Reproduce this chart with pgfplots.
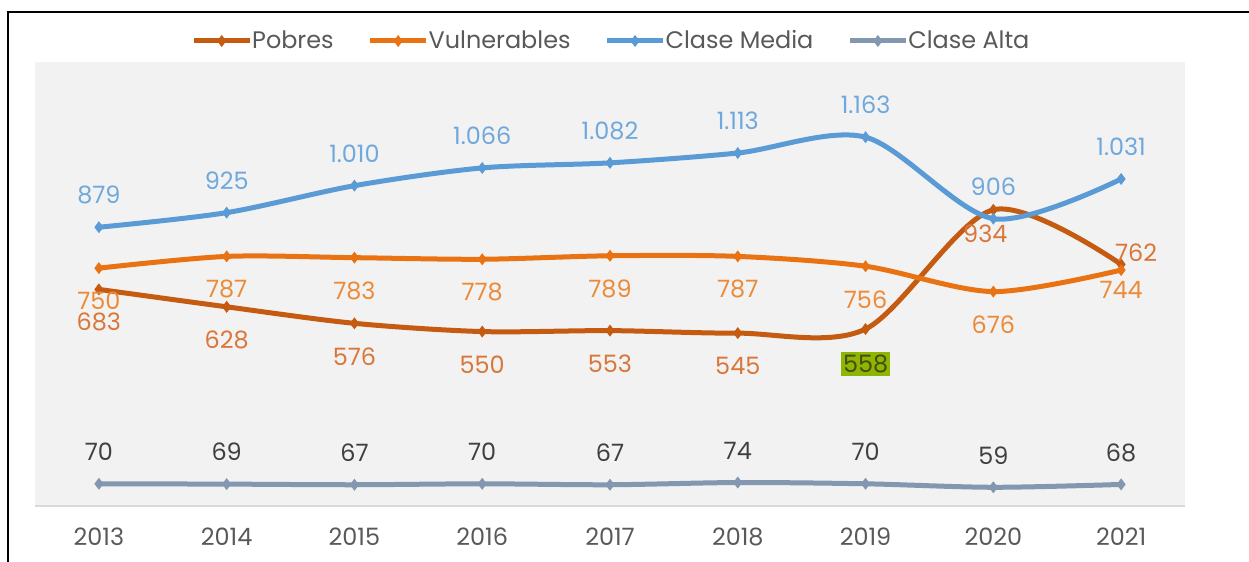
\documentclass[border=0pt]{standalone}
\usepackage{pgfplots}
\pgfplotsset{compat=1.18}
\usetikzlibrary{calc}
\usepackage{fontspec}
\setmainfont{Poppins}
\definecolor{cPob}{HTML}{C55A11}
\definecolor{cVul}{HTML}{E97312}
\definecolor{cMed}{HTML}{5B9BD5}
\definecolor{cAlt}{HTML}{8497B0}
\definecolor{lPob}{HTML}{D9773A}
\definecolor{lVul}{HTML}{EC8A36}
\definecolor{lMed}{HTML}{6FA8DC}
\definecolor{lAlt}{HTML}{404040}
\definecolor{bgc}{HTML}{F2F2F2}
\definecolor{txt}{HTML}{595959}
\definecolor{grn}{HTML}{8DB600}
\definecolor{grntxt}{HTML}{4A4A10}
\begin{document}
\begin{tikzpicture}
\begin{scope}[overlay]
\begin{axis}[
  scale only axis, width=575bp, height=222bp,
  xmin=-0.5, xmax=8.5, ymin=0, ymax=1400,
  axis background/.style={fill=bgc},
  axis x line*=bottom, axis y line=none,
  x axis line style={draw=black!15, line width=0.8bp},
  xtick={0,...,8},
  xticklabels={2013,2014,2015,2016,2017,2018,2019,2020,2021},
  major tick length=0pt,
  xticklabel style={anchor=center, yshift=-15.5bp, text=txt, font=\fontsize{12}{14}\selectfont},
  ytick=\empty,
  /pgf/number format/assume math mode=true,
  /pgf/number format/1000 sep={.},
  legend style={at={(0.502,1)}, anchor=center, yshift=10.5bp, draw=none, fill=none,
    legend columns=-1, font=\fontsize{12}{14}\selectfont, text=txt,
    /tikz/every odd column/.append style={column sep=-2bp},
    /tikz/every even column/.append style={column sep=15bp}},
  legend image code/.code={\draw[mark repeat=2,mark phase=2] plot coordinates {(0bp,0bp) (14bp,0bp) (28bp,0bp)};},
  every axis plot/.append style={line width=2.5bp},
  nodes near coords style={font=\fontsize{12}{14}\selectfont, anchor=center},
]
\coordinate (SW) at (rel axis cs:0,0);
\addplot[cPob, smooth, mark=diamond*, mark size=2.6bp, mark options={line width=0.5bp}] coordinates {(0,683)(1,628)(2,576)(3,550)(4,553)(5,545)(6,558)(7,934)(8,762)};
\addlegendentry{Pobres}
\addplot[cVul, smooth, mark=diamond*, mark size=2.6bp, mark options={line width=0.5bp}] coordinates {(0,750)(1,787)(2,783)(3,778)(4,789)(5,787)(6,756)(7,676)(8,744)};
\addlegendentry{Vulnerables}
\addplot[cMed, smooth, mark=diamond*, mark size=2.6bp, mark options={line width=0.5bp}] coordinates {(0,879)(1,925)(2,1010)(3,1066)(4,1082)(5,1113)(6,1163)(7,906)(8,1031)};
\addlegendentry{Clase Media}
\addplot[cAlt, smooth, mark=diamond*, mark size=2.6bp, mark options={line width=0.5bp}] coordinates {(0,70)(1,69)(2,67)(3,70)(4,67)(5,74)(6,70)(7,59)(8,68)};
\addlegendentry{Clase Alta}
% labels
\addplot[forget plot, only marks, mark=none, point meta=y, nodes near coords,
  nodes near coords style={text=lPob, yshift=-16.5bp}] coordinates {(0,683)(1,628)(2,576)(3,550)(4,553)(5,545)};
\addplot[forget plot, only marks, mark=none, point meta=y, nodes near coords,
  nodes near coords style={text=lPob, yshift=-12bp, xshift=-4bp}] coordinates {(7,934)};
\addplot[forget plot, only marks, mark=none, point meta=y, nodes near coords,
  nodes near coords style={text=lPob, yshift=6bp, xshift=7.5bp}] coordinates {(8,762)};
\addplot[forget plot, only marks, mark=none, point meta=y, nodes near coords,
  nodes near coords style={text=grntxt, fill=grn, inner xsep=1bp, inner ysep=1.5bp, yshift=-17.5bp}] coordinates {(6,558)};
\addplot[forget plot, only marks, mark=none, point meta=y, nodes near coords,
  nodes near coords style={text=lVul, yshift=-16.5bp}] coordinates {(0,750)(1,787)(2,783)(3,778)(4,789)(5,787)(6,756)(7,676)};
\addplot[forget plot, only marks, mark=none, point meta=y, nodes near coords,
  nodes near coords style={text=lVul, yshift=-9.75bp}] coordinates {(8,744)};
\addplot[forget plot, only marks, mark=none, point meta=y, nodes near coords,
  nodes near coords style={text=lMed, yshift=16bp}] coordinates {(0,879)(1,925)(2,1010)(3,1066)(4,1082)(5,1113)(6,1163)(7,906)(8,1031)};
\addplot[forget plot, only marks, mark=none, point meta=y, nodes near coords,
  nodes near coords style={text=lAlt, yshift=16bp}] coordinates {(0,70)(1,69)(2,67)(3,70)(4,67)(5,74)(6,70)(7,59)(8,68)};
\end{axis}
\end{scope}
\coordinate (O) at ($(SW)+(-17.5bp,-28bp)$);
\path[use as bounding box] (O) rectangle ++(624.5bp,281bp);
\draw[line width=1bp,black] ($(O)+(4bp,0)$) -- ++(0,275bp) -- ++(620.5bp,0);
\end{tikzpicture}
\end{document}
